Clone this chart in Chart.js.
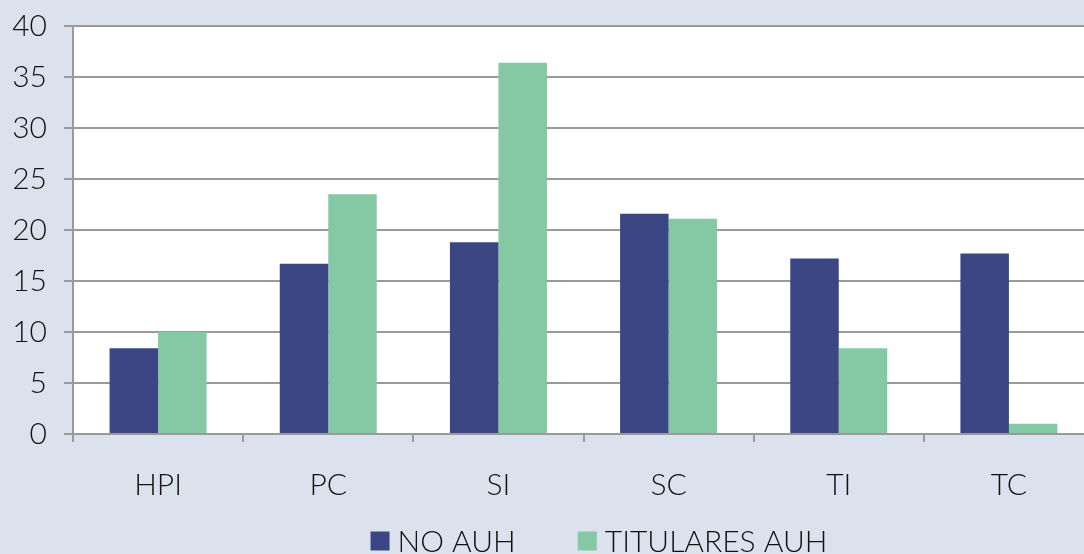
<!DOCTYPE html>
<html>
<head>
<meta charset="utf-8">
<script src="https://cdn.jsdelivr.net/npm/chart.js@4"></script>
<style>
  html, body { margin: 0; padding: 0; background: #dce1ee; overflow: hidden; }
  #wrap { width: 1100px; height: 554px; }
</style>
</head>
<body>
<div id="wrap"><canvas id="chart"></canvas></div>
<script>
  const categories = ["HPI", "PC", "SI", "SC", "TI", "TC"];
  const noAuh = [8.4, 16.7, 18.8, 21.6, 17.2, 17.7];
  const titularesAuh = [10.0, 23.5, 36.4, 21.1, 8.4, 1.0];
  const seriesNames = ["NO AUH", "TITULARES AUH"];

  const gridGrey = "#9a9a9a";
  const fontFamily = "Lato, 'Open Sans', sans-serif";
  const textFont = { family: fontFamily, size: 30, weight: 300 };

  // white plot background
  const plotBg = {
    id: "plotBg",
    beforeDraw(chart) {
      const a = chart.chartArea;
      const ctx = chart.ctx;
      ctx.save();
      ctx.fillStyle = "#ffffff";
      ctx.fillRect(a.left, a.top, a.right - a.left, a.bottom - a.top);
      ctx.restore();
    }
  };

  // legend drawn by hand, to get the wide gap between items
  const bottomLegend = {
    id: "bottomLegend",
    afterDraw(chart) {
      const ctx = chart.ctx;
      const box = 19, gapText = 8, gapItem = 62;
      const y = 541, centerX = 599;
      ctx.save();
      ctx.font = "300 30px " + fontFamily;
      ctx.textBaseline = "middle";
      const items = chart.data.datasets.map(d => ({
        text: d.label, color: d.backgroundColor, w: ctx.measureText(d.label).width
      }));
      let total = 0;
      items.forEach((it, i) => { total += box + gapText + it.w + (i ? gapItem : 0); });
      let x = centerX - total / 2;
      items.forEach(it => {
        ctx.fillStyle = it.color;
        ctx.fillRect(x, y - box / 2, box, box);
        ctx.fillStyle = "#111";
        ctx.fillText(it.text, x + box + gapText, y + 1);
        x += box + gapText + it.w + gapItem;
      });
      ctx.restore();
    }
  };

  new Chart(document.getElementById("chart").getContext("2d"), {
    type: "bar",
    data: {
      labels: categories,
      datasets: [{
        label: seriesNames[0],
        data: noAuh,
        backgroundColor: "#3b4684",
        categoryPercentage: 0.57,
        barPercentage: 1.0
      }, {
        label: seriesNames[1],
        data: titularesAuh,
        backgroundColor: "#85c8a4",
        categoryPercentage: 0.57,
        barPercentage: 1.0
      }]
    },
    options: {
      responsive: true,
      maintainAspectRatio: false,
      animation: false,
      layout: { padding: { top: 26, right: 6, left: 0, bottom: 37 } },
      plugins: {
        tooltip: { enabled: false },
        legend: { display: false }
      },
      scales: {
        x: {
          grid: {
            drawOnChartArea: false,
            drawTicks: true,
            tickLength: 8,
            color: gridGrey,
            lineWidth: 2
          },
          border: { color: gridGrey, width: 2 },
          ticks: {
            color: "#111",
            font: textFont,
            padding: 25
          },
          afterFit(scale) { scale.height = 83; }
        },
        y: {
          min: 0,
          max: 40,
          ticks: {
            stepSize: 5,
            color: "#111",
            font: textFont,
            padding: 17
          },
          grid: {
            color: gridGrey,
            lineWidth: 2,
            tickLength: 9
          },
          border: { color: gridGrey, width: 2 },
          afterFit(scale) {
            scale.width = 73;
            scale.paddingTop = 0;
            scale.paddingBottom = 0;
          }
        }
      }
    },
    plugins: [plotBg, bottomLegend]
  });
</script>
</body>
</html>
